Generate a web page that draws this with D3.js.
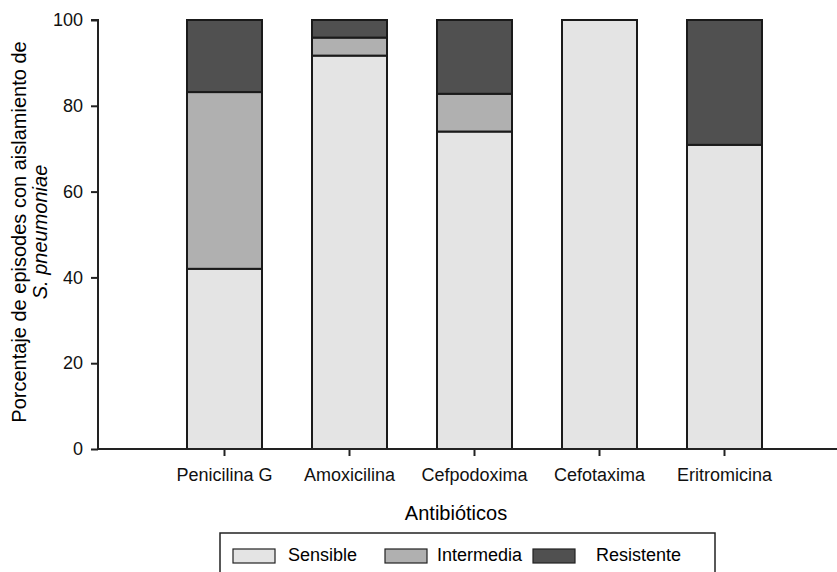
<!DOCTYPE html>
<html>
<head>
<meta charset="utf-8">
<script src="https://cdn.jsdelivr.net/npm/d3@7"></script>
<style>
  body { margin: 0; background: #fff; }
  svg { font-family: "Liberation Sans", Arial, sans-serif; }
  .axis path, .axis line { stroke: #222; stroke-width: 2; }
  .axis text { font-size: 18px; fill: #111; }
</style>
</head>
<body>
<svg id="chart" width="837" height="572"></svg>
<script>
// data
const antibiotics = ["Penicilina G", "Amoxicilina", "Cefpodoxima", "Cefotaxima", "Eritromicina"];
const sensible   = [42.0, 91.7, 74.0, 100, 70.9];
const intermedia = [41.2, 4.2, 8.8, 0, 0];
const resistente = [16.8, 4.1, 17.2, 0, 29.1];
const yTicks = [0, 20, 40, 60, 80, 100];

const seriesNames = ["Sensible", "Intermedia", "Resistente"];
const colors = {Sensible: "#e4e4e4", Intermedia: "#b0b0b0", Resistente: "#505050"};

let svg = d3.select("#chart");

//scales
let x = d3.scaleBand()
    .domain(antibiotics)
    .range([162, 787])
    .paddingInner(0.4)
    .paddingOuter(0.2);

let y = d3.scaleLinear()
    .domain([0, 100])
    .range([449, 20]);

// table for the stack
let rows = antibiotics.map((a, i) => ({
    name: a,
    Sensible: sensible[i],
    Intermedia: intermedia[i],
    Resistente: resistente[i]
}));
let stacked = d3.stack().keys(seriesNames)(rows);

stacked.forEach(layer => {
    svg.append("g")
        .selectAll("rect")
        .data(layer.filter(d => d[1] - d[0] > 0))
        .join("rect")
        .attr("x", d => x(d.data.name))
        .attr("width", x.bandwidth())
        .attr("y", d => y(d[1]))
        .attr("height", d => y(d[0]) - y(d[1]))
        .style("fill", colors[layer.key])
        .style("stroke", "#1a1a1a")
        .style("stroke-width", 2);
});

//axes
svg.append("g")
    .attr("class", "axis")
    .attr("transform", "translate(98,0)")
    .call(d3.axisLeft(y).tickValues(yTicks).tickSize(7).tickPadding(8))
    .call(g => g.select(".domain").attr("d", "M-7,20H0V449"));

let xAxis = svg.append("g")
    .attr("class", "axis")
    .attr("transform", "translate(0,449)")
    .call(d3.axisBottom(x).tickSize(7).tickPadding(12));
xAxis.select(".domain").attr("d", "M98,0H837");

svg.append("text")
    .attr("x", 456)
    .attr("y", 520)
    .style("text-anchor", "middle")
    .style("font-size", "20px")
    .text("Antibióticos");

let yl = svg.append("text")
    .attr("transform", "translate(26,232) rotate(-90)")
    .style("text-anchor", "middle")
    .style("font-size", "20px");
yl.append("tspan").attr("x", 0).attr("dy", 0).text("Porcentaje de episodes con aislamiento de");
yl.append("tspan").attr("x", 0).attr("dy", 21).style("font-style", "italic").text("S. pneumoniae");

// legend
svg.append("rect")
    .attr("x", 220).attr("y", 533)
    .attr("width", 495).attr("height", 50)
    .style("fill", "none").style("stroke", "#222").style("stroke-width", 1.5);

const legendX = [233, 385, 533];
const legendTextX = [288, 437, 596];
seriesNames.forEach((s, i) => {
    svg.append("rect")
        .attr("x", legendX[i]).attr("y", 549)
        .attr("width", 42).attr("height", 14)
        .style("fill", colors[s]).style("stroke", "#222").style("stroke-width", 1.2);
    svg.append("text")
        .attr("x", legendTextX[i]).attr("y", 561)
        .style("font-size", "18px")
        .text(s);
});
</script>
</body>
</html>
